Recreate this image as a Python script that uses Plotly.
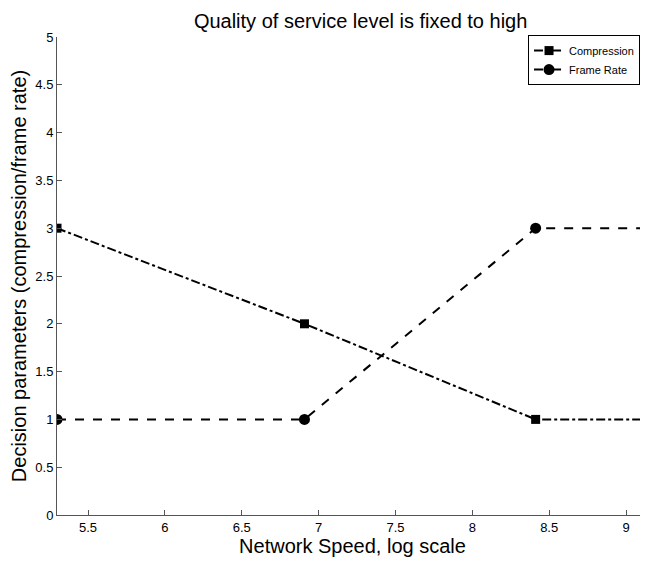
import plotly.graph_objects as go

network_speed = [5.298, 6.908, 8.412, 9.21]
compression = [3, 2, 1, 1]
frame_rate = [1, 1, 3, 3]
x_ticks = [5.5, 6, 6.5, 7, 7.5, 8, 8.5, 9]
y_ticks = [0, 0.5, 1, 1.5, 2, 2.5, 3, 3.5, 4, 4.5, 5]

fig = go.Figure()
fig.add_trace(go.Scatter(x=network_speed, y=compression, name="Compression",
                         mode="lines+markers",
                         line=dict(color="black", width=2, dash="dashdot"),
                         marker=dict(symbol="square", size=9, color="black")))
fig.add_trace(go.Scatter(x=network_speed, y=frame_rate, name="Frame Rate",
                         mode="lines+markers",
                         line=dict(color="black", width=2, dash="dash"),
                         marker=dict(symbol="circle", size=11, color="black")))

fig.update_layout(
    width=640, height=553,
    margin=dict(l=49, r=0, t=29, b=46, autoexpand=False),
    paper_bgcolor="white", plot_bgcolor="white",
    font=dict(family="Liberation Sans, Arial, sans-serif", color="black", size=13),
    title=dict(text="Quality of service level is fixed to high", x=0.551, xanchor="center",
               y=0.977, yanchor="middle", font=dict(size=20)),
    showlegend=True,
    legend=dict(x=0.797, y=1.004, xanchor="left", yanchor="top",
                bordercolor="black", borderwidth=1, bgcolor="white",
                font=dict(size=11), tracegroupgap=0, itemwidth=30),
    xaxis=dict(range=[5.298, 9.143], tickvals=x_ticks, ticktext=[str(v) for v in x_ticks],
               ticks="inside", ticklen=5, tickcolor="#555", showline=True, linecolor="#555",
               linewidth=1, showgrid=False, zeroline=False, automargin=False,
               title=dict(text="Network Speed, log scale", font=dict(size=20), standoff=2)),
    yaxis=dict(range=[0, 5], tickvals=y_ticks, ticktext=[f"{v:g}" for v in y_ticks],
               ticks="inside", ticklen=5, tickcolor="#555", showline=True, linecolor="#555",
               linewidth=1, showgrid=False, zeroline=False, automargin=False,
               title=dict(text="Decision parameters (compression/frame rate)", font=dict(size=20), standoff=4)),
)

fig.write_html("out.html")
